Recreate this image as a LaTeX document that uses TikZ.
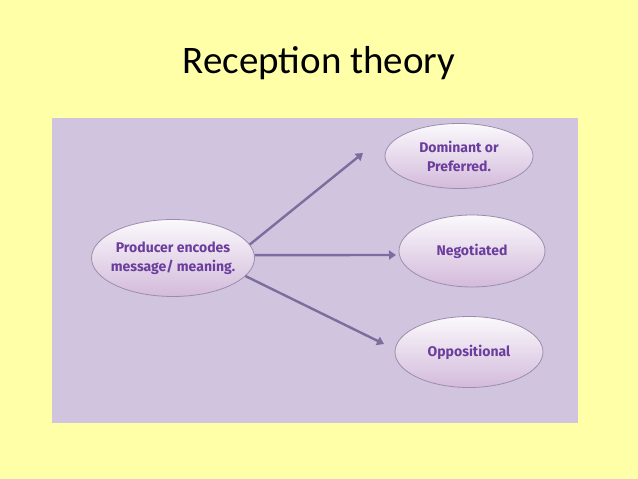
\documentclass[tikz,border=0pt]{standalone}
\usepackage{fontspec}
\setmainfont{Carlito}
\newfontfamily\ovalfont{Fira Sans}
\definecolor{slidebg}{HTML}{FFFFA8}
\definecolor{panel}{HTML}{D1C4DF}
\definecolor{ovaltext}{HTML}{6B3D9C}
\definecolor{ovalline}{HTML}{9C8DB0}
\definecolor{arrowcol}{HTML}{7D6D9E}
\tikzset{
  oval/.style={ellipse, draw=ovalline, line width=0.8pt, top color=white!90!panel, bottom color=panel!80!violet!70!white,
    text=ovaltext, font=\ovalfont\bfseries\fontsize{14}{19}\selectfont, align=center, inner sep=0pt},
  link/.style={draw=arrowcol, line width=2.4pt, -{Triangle[length=7pt,width=9pt]}}
}
\usetikzlibrary{shapes.geometric,arrows.meta}
\begin{document}
\begin{tikzpicture}[x=1pt,y=-1pt]
\useasboundingbox (0,0) rectangle (638,479);
\fill[slidebg] (0,0) rectangle (638,479);
\fill[panel] (52,118) rectangle (578,423);

\node[font=\fontsize{39}{46}\selectfont] (title) at (319,63) {Reception theory};

\node[oval, inner xsep=-6pt, minimum width=163pt, minimum height=77pt] (producer) at (173,258) {Producer encodes\\message/ meaning.};

\node[oval, minimum width=148pt, minimum height=65pt] (dominant) at (459,156) {Dominant or\\Preferred.};
\node[oval, minimum width=146pt, minimum height=72pt] (negotiated) at (472,251) {Negotiated};
\node[oval, minimum width=148pt, minimum height=71pt] (opposition) at (469,352) {Oppositional};

%--------------------------------------------------------
\coordinate (tipA) at (363,153);
\coordinate (tipB) at (396,255);
\coordinate (tipC) at (384,344);

\draw[link] (producer.10) -- (tipA);
\draw[link] (producer.2) -- (tipB);
\draw[link] (producer.-14) -- (tipC);
\end{tikzpicture}
\end{document}
